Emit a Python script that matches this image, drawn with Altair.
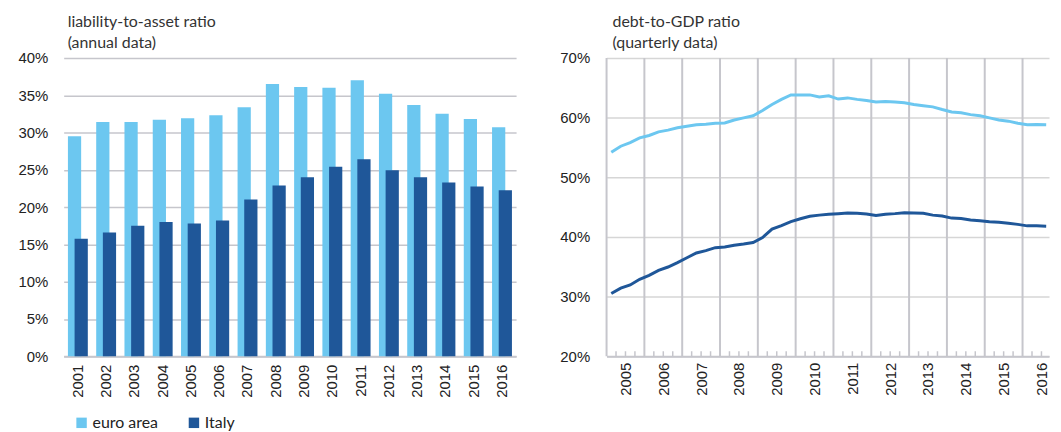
import altair as alt
import pandas as pd

# ---------------- data ----------------
years = [str(y) for y in range(2001, 2017)]
euro_annual = [29.5, 31.4, 31.4, 31.7, 31.9, 32.3, 33.4, 36.5, 36.1, 36.0,
               37.0, 35.2, 33.7, 32.5, 31.8, 30.7]
italy_annual = [15.75, 16.6, 17.5, 18.0, 17.8, 18.2, 21.0, 22.9, 24.0, 25.4,
                26.4, 24.95, 24.0, 23.3, 22.75, 22.25]

series_names = ["euro area", "Italy"]
series_colors = ["#6cc7f0", "#1f5799"]

quarters = [f"{y}Q{q}" for y in range(2005, 2017) for q in range(1, 5)][:47]
euro_q = [54.2, 55.2, 55.8, 56.6,
          57.0, 57.6, 57.9, 58.3,
          58.55, 58.8, 58.9, 59.05,
          59.1, 59.6, 59.95, 60.3,
          61.2, 62.2, 63.05, 63.8,
          63.8, 63.8, 63.45, 63.65,
          63.1, 63.3, 63.05, 62.85,
          62.6, 62.7, 62.6, 62.5,
          62.2, 62.0, 61.8, 61.35,
          60.95, 60.8, 60.5, 60.3,
          59.95, 59.6, 59.4, 59.05,
          58.8, 58.85, 58.8]
italy_q = [30.5, 31.4, 31.95, 32.9,
           33.55, 34.4, 34.95, 35.7,
           36.5, 37.3, 37.7, 38.2,
           38.3, 38.6, 38.8, 39.05,
           39.9, 41.3, 41.9, 42.55,
           43.05, 43.45, 43.65, 43.8,
           43.9, 44.0, 43.95, 43.85,
           43.6, 43.8, 43.9, 44.05,
           44.0, 43.95, 43.65, 43.5,
           43.15, 43.1, 42.85, 42.7,
           42.55, 42.45, 42.3, 42.1,
           41.85, 41.85, 41.8]
year_bounds = list(range(2005, 2017))
left_ticks = [0, 5, 10, 15, 20, 25, 30, 35, 40]
right_ticks = [20, 30, 40, 50, 60, 70]

GRID = "#c6c6cc"
TXT = "#222222"
X_END = 2016.7

# ---------------- left: annual bars ----------------
df_a = pd.DataFrame({
    "year": years * 2,
    "series": [series_names[0]] * len(years) + [series_names[1]] * len(years),
    "value": euro_annual + italy_annual,
})

color_left = alt.Color(
    "series:N",
    scale=alt.Scale(domain=series_names, range=series_colors),
    legend=alt.Legend(
        title=None, orient="none", legendX=10, legendY=359,
        direction="horizontal", symbolType="square", symbolSize=110,
        symbolStrokeWidth=0, labelFont="Lato", labelFontSize=16,
        labelColor=TXT, columnPadding=28, labelOffset=3,
    ),
)
xA = alt.X("year:N", scale=alt.Scale(paddingInner=0, paddingOuter=0),
           axis=alt.Axis(title=None, labelAngle=270, ticks=False, labelPadding=8,
                         domainColor=GRID, domainWidth=2, grid=False))
yA = alt.Y("value:Q", scale=alt.Scale(domain=[0, 40], nice=False),
           axis=alt.Axis(title=None, values=left_ticks, labelExpr="datum.value + '%'",
                         ticks=False, domain=False, grid=True, gridColor=GRID,
                         gridWidth=1.5, labelPadding=16))

base_a = alt.Chart(df_a)
euro_bars = base_a.transform_filter(alt.datum.series == series_names[0]).mark_bar(
    size=13.3, xOffset=-3.3).encode(x=xA, y=yA, color=color_left)
italy_bars = base_a.transform_filter(alt.datum.series == series_names[1]).mark_bar(
    size=13.3, xOffset=3.4).encode(x=xA, y=yA, color=color_left)

left = alt.layer(euro_bars, italy_bars).properties(
    width=455, height=300,
    title=alt.TitleParams(["liability-to-asset ratio", "(annual data)"],
                          anchor="start", frame="group", dx=4, offset=0),
)

# ---------------- right: quarterly lines ----------------
def qpos(s):
    return int(s[:4]) + (int(s[5]) - 0.5) / 4

df_q = pd.DataFrame({
    "quarter": quarters * 2,
    "series": [series_names[0]] * len(quarters) + [series_names[1]] * len(quarters),
    "value": euro_q + italy_q,
})
df_q["t"] = df_q["quarter"].map(qpos)

xscale = alt.Scale(domain=[2005, X_END], nice=False, zero=False)
yscale = alt.Scale(domain=[20, 70], nice=False, zero=False)
xaxis = alt.Axis(title=None, values=[y + 0.5 for y in year_bounds],
                 labelExpr="floor(datum.value)", labelAngle=270,
                 ticks=False, grid=False, labelPadding=6,
                 domainColor=GRID, domainWidth=2)
yaxis = alt.Axis(title=None, values=right_ticks, labelExpr="datum.value + '%'",
                 ticks=False, domain=False, grid=True, gridColor="#d6d6d6",
                 gridWidth=1.5, labelPadding=17)

df_grid = pd.DataFrame({"yr": year_bounds})
df_qt = pd.DataFrame({"qt": [y + f for y in year_bounds for f in (0.25, 0.5, 0.75)
                             if y + f < X_END]})

vgrid = alt.Chart(df_grid).mark_rule(color=GRID, strokeWidth=2).encode(
    x=alt.X("yr:Q", scale=xscale, axis=xaxis), y=alt.value(0), y2=alt.value(300))
qticks = alt.Chart(df_qt).mark_rule(color=GRID, strokeWidth=1.5).encode(
    x=alt.X("qt:Q", scale=xscale, axis=xaxis), y=alt.value(300), y2=alt.value(295))

lines = alt.Chart(df_q).mark_line(strokeWidth=3).encode(
    x=alt.X("t:Q", scale=xscale, axis=xaxis),
    y=alt.Y("value:Q", scale=yscale, axis=yaxis),
    color=alt.Color("series:N", scale=alt.Scale(domain=series_names, range=series_colors),
                    legend=None),
    detail="series:N",
)

right = alt.layer(vgrid, qticks, lines).properties(
    width=445, height=300,
    title=alt.TitleParams(["debt-to-GDP ratio", "(quarterly data)"],
                          anchor="start", frame="group", dx=6, offset=0),
)

chart = alt.hconcat(left, right, spacing=43).resolve_scale(
    color="independent").resolve_legend(color="independent").properties(
    padding={"left": 9, "top": 5, "right": 0, "bottom": 0},
).configure_axis(
    labelFont="Liberation Sans", labelFontSize=15, labelColor=TXT,
).configure_title(
    font="Lato", fontSize=16, color="#333333", fontWeight="normal", lineHeight=21,
).configure_view(stroke=None)

chart.save("out.html", embed_options={"renderer": "svg", "actions": False})
